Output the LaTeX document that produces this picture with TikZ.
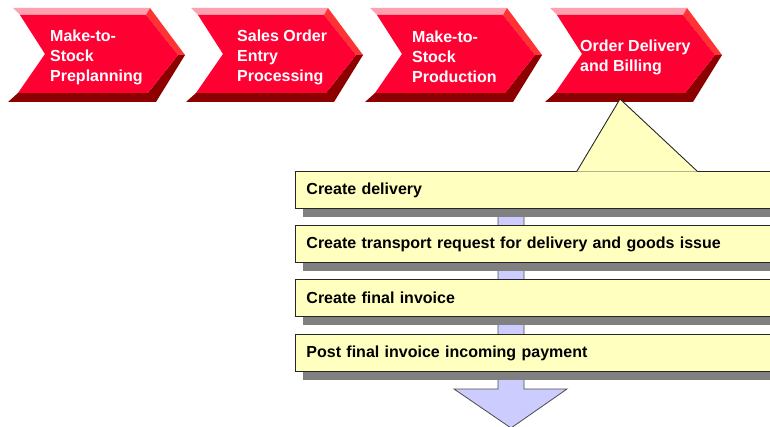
\documentclass[tikz,border=0pt]{standalone}
\usepackage{fontspec}
\setmainfont{Liberation Sans}
\usetikzlibrary{backgrounds}
\definecolor{chevface}{RGB}{255,0,51}
\definecolor{chevtop}{RGB}{255,160,176}
\definecolor{chevside}{RGB}{255,51,51}
\definecolor{chevdark}{RGB}{140,0,0}
\definecolor{taskfill}{RGB}{255,255,192}
\definecolor{taskshadow}{RGB}{128,128,128}
\definecolor{flowfill}{RGB}{204,204,255}
\tikzset{
  phasetext/.style={anchor=west, align=left, text=white, inner sep=0pt,
    font=\fontsize{16}{20}\selectfont\bfseries},
  taskbox/.style={anchor=north west, draw=black!85, line width=0.9pt, fill=taskfill,
    text width=490pt, inner xsep=11pt, inner ysep=0pt, minimum height=37pt, align=left,
    font=\fontsize{16}{19}\selectfont\bfseries},
}
\begin{document}
\begin{tikzpicture}[x=1pt, y=-1pt]
\clip (0,0) rectangle (770,427);

% phase chevrons
\foreach \dx in {0,178,357,537} {
  \begin{scope}[shift={(\dx,0)}]
  \fill[chevdark] (178,55) -- (185,55) -- (156,102) -- (8,102) -- (18,93) -- (148,93) -- cycle;
  \fill[chevtop] (13,8) -- (150,8) -- (146,15) -- (20,15) -- cycle;
  \fill[chevside] (150,8) -- (185,55) -- (178,55) -- (146,15) -- cycle;
  \fill[chevface] (20,15) -- (146,15) -- (178,55) -- (148,93) -- (18,93) -- (45,54) -- cycle;
  \end{scope}
}
\node[phasetext] (preplan) at (50,57) {Make-to-\\Stock\\Preplanning};
\node[phasetext] (entry) at (237,57) {Sales Order\\Entry\\Processing};
\node[phasetext] (production) at (412,57) {Make-to-\\Stock\\Production};
\node[phasetext] (billing) at (580,57) {Order Delivery\\and Billing};

% process flow arrow behind the steps
\begin{scope}[on background layer]
\coordinate (flowtip) at (511,428);
\filldraw[fill=flowfill, draw=black!70, line width=0.8pt]
  (498,200) -- (498,389) -- (454,389) -- (flowtip) -- (567,389) -- (524,389) -- (524,200) -- cycle;
\end{scope}

% steps
\node[taskbox] (delivery) at (295,171) {Create delivery};
\node[taskbox] (transport) at (295,225) {Create transport request for delivery and goods issue};
\node[taskbox] (invoice) at (295,279) {Create final invoice};
\node[taskbox] (payment) at (295,334) {Post final invoice incoming payment};
\begin{scope}[on background layer]
\foreach \n in {delivery,transport,invoice,payment}
  \fill[taskshadow] ([shift={(8,8)}]\n.north west) rectangle ([shift={(8,8)}]\n.south east);
\end{scope}

% callout from the last phase
\fill[taskfill] (577,171.7) -- (620,99) -- (697,171.7) -- cycle;
\draw[line width=0.9pt, draw=black!85] (577,171) -- (620,99) -- (697,171);
\end{tikzpicture}
\end{document}
